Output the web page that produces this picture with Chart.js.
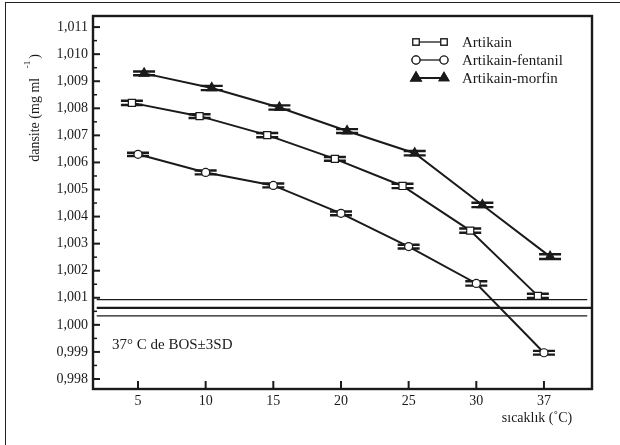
<!DOCTYPE html>
<html><head><meta charset="utf-8">
<script src="https://cdn.jsdelivr.net/npm/chart.js@4.4.1/dist/chart.umd.min.js"></script>
<style>
html,body{margin:0;padding:0;background:#fff;}
#wrap{position:relative;width:620px;height:445px;overflow:hidden;}
#frame{position:absolute;left:5px;top:2px;width:700px;height:500px;border-left:1.5px solid #222;border-top:1.5px solid #222;}
canvas{position:absolute;left:0;top:0;}
</style></head>
<body><div id="wrap"><div id="frame"></div><canvas id="c" width="620" height="445"></canvas></div>
<script>
const categories = ['5','10','15','20','25','30','37'];
const artikain = [1.0082, 1.00771, 1.00701, 1.00613, 1.00513, 1.00348, 1.00107];
const fentanil = [1.0063, 1.00563, 1.00515, 1.00412, 1.00289, 1.00153, 0.99897];
const morfin   = [1.00929, 1.00875, 1.00803, 1.00716, 1.00634, 1.00443, 1.00252];
const artikainSD = [0.00008, 0.00007, 0.00008, 0.00007, 0.00008, 0.00008, 0.00008];
const fentanilSD = [0.00006, 0.00007, 0.00007, 0.00007, 0.00007, 0.00008, 0.00007];
const morfinSD   = [0.00007, 0.00008, 0.00008, 0.00007, 0.00008, 0.00008, 0.00009];
const bosLines = [1.00093, 1.00063, 1.00033];
const yTicks = [0.998,0.999,1.000,1.001,1.002,1.003,1.004,1.005,1.006,1.007,1.008,1.009,1.010,1.011];
const seriesNames = ['Artikain','Artikain-fentanil','Artikain-morfin'];

const SERIF = '"Liberation Serif","DejaVu Serif",serif';
const INK = '#1a1a1a';
const PADL = 0, PADB = 0;

function pts(arr, off, sd){ return arr.map((v,i)=>({x:i+off, y:v, sd:sd[i]})); }

const mk = (label, data, style, fill, r) => ({
  label, data, type:'line', borderColor:INK, borderWidth:2,
  pointStyle:style, pointRadius:r, pointHoverRadius:r, pointBackgroundColor:fill,
  pointBorderColor:INK, pointBorderWidth:1.2, fill:false, tension:0, errbar:true
});
const bos = (v, x0, x1, w) => ({
  label:'bos', data:[{x:x0,y:v},{x:x1,y:v}], type:'line', borderColor:INK,
  borderWidth:w, pointRadius:0, fill:false, errbar:false
});

const datasets = [
  bos(bosLines[0], -0.61, 6.64, 1.4),
  bos(bosLines[1], -0.61, 6.71, 2.2),
  bos(bosLines[2], -0.61, 6.64, 1.4),
  mk(seriesNames[0], pts(artikain, -0.09, artikainSD), 'rect', '#fff', 5),
  mk(seriesNames[1], pts(fentanil, 0, fentanilSD), 'circle', '#fff', 4),
  mk(seriesNames[2], pts(morfin, 0.09, morfinSD), 'triangle', INK, 5.5)
];

const fmt = v => v.toFixed(3).replace('.', ',');

const deco = {
  id:'deco',
  beforeDatasetsDraw(chart){
    const ctx = chart.ctx, xs = chart.scales.x, ys = chart.scales.y;
    ctx.save();
    ctx.strokeStyle = INK; ctx.lineWidth = 2.4;
    chart.data.datasets.forEach(ds=>{
      if(!ds.errbar) return;
      ds.data.forEach(p=>{
        const x = xs.getPixelForValue(p.x);
        const yt = ys.getPixelForValue(p.y + p.sd), yb = ys.getPixelForValue(p.y - p.sd);
        ctx.beginPath();
        ctx.moveTo(x-11, yt); ctx.lineTo(x+11, yt);
        ctx.moveTo(x-11, yb); ctx.lineTo(x+11, yb);
        ctx.moveTo(x, yt); ctx.lineTo(x, yb);
        ctx.stroke();
      });
    });
    ctx.restore();
  },
  afterDraw(chart){
    const ctx = chart.ctx, a = chart.chartArea, xs = chart.scales.x, ys = chart.scales.y;
    ctx.save();
    ctx.strokeStyle = INK;
    ctx.lineWidth = 2.4;
    ctx.strokeRect(a.left, a.top, a.right-a.left, a.bottom-a.top);
    ctx.lineWidth = 2;
    yTicks.forEach(v=>{
      const y = ys.getPixelForValue(v);
      ctx.beginPath(); ctx.moveTo(a.left, y); ctx.lineTo(a.left+7, y); ctx.stroke();
    });
    ctx.lineWidth = 1.5;
    for(let i=0;i<yTicks.length;i++){
      const v = yTicks[i] + 0.0005;
      if (v > ys.max) break;
      const y = ys.getPixelForValue(v);
      ctx.beginPath(); ctx.moveTo(a.left, y); ctx.lineTo(a.left+4, y); ctx.stroke();
    }
    {
      const y = ys.getPixelForValue(yTicks[0]-0.0005);
      if (y < a.bottom) { ctx.beginPath(); ctx.moveTo(a.left, y); ctx.lineTo(a.left+4, y); ctx.stroke(); }
    }
    ctx.lineWidth = 2;
    categories.forEach((c,i)=>{
      const x = xs.getPixelForValue(i);
      ctx.beginPath(); ctx.moveTo(x, a.bottom); ctx.lineTo(x, a.bottom-8); ctx.stroke();
    });
    // legend
    const ly = [42, 60, 78];
    const styles = ['rect','circle','triangle'];
    const fills = ['#fff','#fff',INK];
    const rads = [4.5, 4, 5.5];
    for(let i=0;i<3;i++){
      ctx.strokeStyle = INK;
      ctx.lineWidth = i===2 ? 2 : 1.3;
      ctx.beginPath(); ctx.moveTo(416, ly[i]); ctx.lineTo(444, ly[i]); ctx.stroke();
      [416,444].forEach(x=>{
        Chart.helpers.drawPoint(ctx, {pointStyle:styles[i], radius:rads[i], rotation:0, borderWidth:1.2}, x, ly[i]);
        ctx.fillStyle = fills[i]; ctx.strokeStyle = INK; ctx.lineWidth = 1.2;
        ctx.fill(); ctx.stroke();
      });
      ctx.fillStyle = INK;
      ctx.font = '15px ' + SERIF; ctx.textAlign='left'; ctx.textBaseline='middle';
      ctx.fillText(seriesNames[i], 462, ly[i]+1);
    }
    ctx.fillStyle = INK;
    ctx.font = '15px ' + SERIF; ctx.textAlign='left'; ctx.textBaseline='middle';
    ctx.fillText('37° C de BOS±3SD', 112, 345);
    ctx.font = '14px ' + SERIF;
    ctx.textAlign='center';
    ctx.fillText('sıcaklık (˚C)', 537, 418);
    // y title
    ctx.translate(35, 108); ctx.rotate(-Math.PI/2);
    ctx.textAlign='left'; ctx.textBaseline='middle';
    const t1 = 'dansite (mg ml ';
    ctx.font = '14px ' + SERIF;
    const w1 = ctx.measureText(t1).width;
    ctx.font = '9px ' + SERIF;
    const w2 = ctx.measureText('-1').width;
    ctx.font = '14px ' + SERIF;
    const w3 = ctx.measureText(')').width;
    const tot = w1 + 6 + w2 + 2 + w3;
    let x0 = -tot/2;
    ctx.fillText(t1, x0, 0);
    ctx.font = '9px ' + SERIF;
    ctx.fillText('-1', x0 + w1 + 6, -7);
    ctx.font = '14px ' + SERIF;
    ctx.fillText(')', x0 + w1 + 6 + w2 + 2, 0);
    ctx.restore();
  }
};

new Chart(document.getElementById('c'), {
  type:'line',
  data:{ datasets },
  options:{
    responsive:false, animation:false, devicePixelRatio:1,
    layout:{ padding:{ left:PADL, right:28, top:16, bottom:PADB } },
    plugins:{ legend:{display:false}, tooltip:{enabled:false} },
    scales:{
      x:{
        type:'linear', min:-0.665, max:6.71,
        afterBuildTicks(s){ s.ticks = categories.map((c,i)=>({value:i})); },
        afterFit(s){ s.height = 445 - 389 - PADB; },
        ticks:{ callback:(v)=>categories[v], font:{family:SERIF, size:14}, color:INK, padding:4, maxRotation:0, autoSkip:false },
        grid:{ display:false, drawTicks:false }, border:{ display:false }
      },
      y:{
        type:'linear', min:0.99763, max:1.01141,
        afterBuildTicks(s){ s.ticks = yTicks.map(v=>({value:v})); },
        afterFit(s){ s.width = 93 - PADL; },
        ticks:{ callback:(v)=>fmt(v), font:{family:SERIF, size:14}, color:INK, padding:5, autoSkip:false },
        grid:{ display:false, drawTicks:false }, border:{ display:false }
      }
    }
  },
  plugins:[deco]
});
</script></body></html>
